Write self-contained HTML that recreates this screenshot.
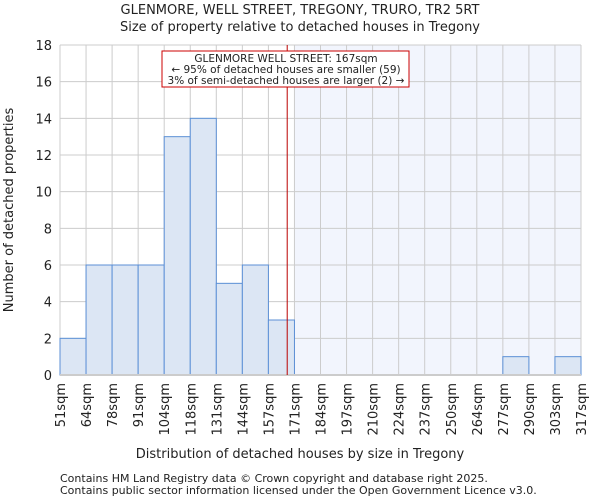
<!DOCTYPE html>
<html><head><meta charset="utf-8"><style>
body{margin:0;background:#fff;font-family:"DejaVu Sans","Liberation Sans",sans-serif;}
svg text{font-family:"DejaVu Sans","Liberation Sans",sans-serif;fill:#222;}
</style></head><body>
<svg id="c" width="600" height="500">
<text x="300" y="14" text-anchor="middle" font-size="13">GLENMORE, WELL STREET, TREGONY, TRURO, TR2 5RT</text>
<text x="300" y="31" text-anchor="middle" font-size="13">Size of property relative to detached houses in Tregony</text>
<g id="plot"></g>
<text x="300" y="458" text-anchor="middle" font-size="13">Distribution of detached houses by size in Tregony</text>
<text transform="translate(13,210) rotate(-90)" text-anchor="middle" font-size="13">Number of detached properties</text>
<text x="60" y="482" font-size="11">Contains HM Land Registry data © Crown copyright and database right 2025.</text>
<text x="60" y="494" font-size="11">Contains public sector information licensed under the Open Government Licence v3.0.</text>
</svg>
<script>
const binLabels=[51,64,78,91,104,118,131,144,157,171,184,197,210,224,237,250,264,277,290,303,317];
const counts=[2,6,6,6,13,14,5,6,3,0,0,0,0,0,0,0,0,1,0,1];
const yTicks=[0,2,4,6,8,10,12,14,16,18];
const subjectSize=167;
const subjectBin=9;
const NS='http://www.w3.org/2000/svg';
const L=60,R=581,T=45,B=375,yMax=18;
const n=counts.length,bw=(R-L)/n;
const xi=i=>L+i*bw;
const xv=v=>L+(v-binLabels[0])/(binLabels[n]-binLabels[0])*(R-L);
const y=v=>B-v/yMax*(B-T);
const g=document.getElementById('plot');
function mk(t,a){const e=document.createElementNS(NS,t);for(const k in a)e.setAttribute(k,a[k]);g.appendChild(e);return e;}
let e=mk('rect',{x:xi(subjectBin),y:T,width:R-xi(subjectBin),height:B-T,fill:'#f2f5fd'});


yTicks.forEach(t=>{
 let l=mk('line',{x1:L,x2:R,y1:y(t),y2:y(t),stroke:'#ccc','stroke-width':1});
 
 
 let tx=mk('text',{x:L-8,y:y(t)+5,'text-anchor':'end','font-size':13});
 tx.textContent=t;
 
 
});
binLabels.forEach((v,i)=>{
 let l=mk('line',{x1:xi(i),x2:xi(i),y1:T,y2:B,stroke:'#ccc','stroke-width':1});
 
 
 let tx=mk('text',{transform:`translate(${xi(i)+5},383) rotate(-90)`,'text-anchor':'end','font-size':13});
 tx.textContent=v+'sqm';
 
 
});
counts.forEach((c,i)=>{
 if(c<=0)return;
 let r=mk('rect',{x:xi(i),y:y(c),width:bw,height:B-y(c),fill:'#dce6f4',stroke:'#5b8fd6','stroke-width':1});
 
 
});
let ax=mk('line',{x1:L,x2:R,y1:B,y2:B,stroke:'#ccc','stroke-width':2});


let ml=mk('line',{x1:xv(subjectSize),x2:xv(subjectSize),y1:T,y2:B,stroke:'#b00','stroke-width':1});


let box=mk('rect',{x:162,y:51,width:247,height:36,fill:'#fff',stroke:'#c00','stroke-width':1});


['GLENMORE WELL STREET: 167sqm','← 95% of detached houses are smaller (59)','3% of semi-detached houses are larger (2) →'].forEach((s,i)=>{
 let t=mk('text',{x:286,y:62+i*11,'text-anchor':'middle','font-size':10.5});
 t.textContent=s;
 
 
});
</script>
</body></html>
